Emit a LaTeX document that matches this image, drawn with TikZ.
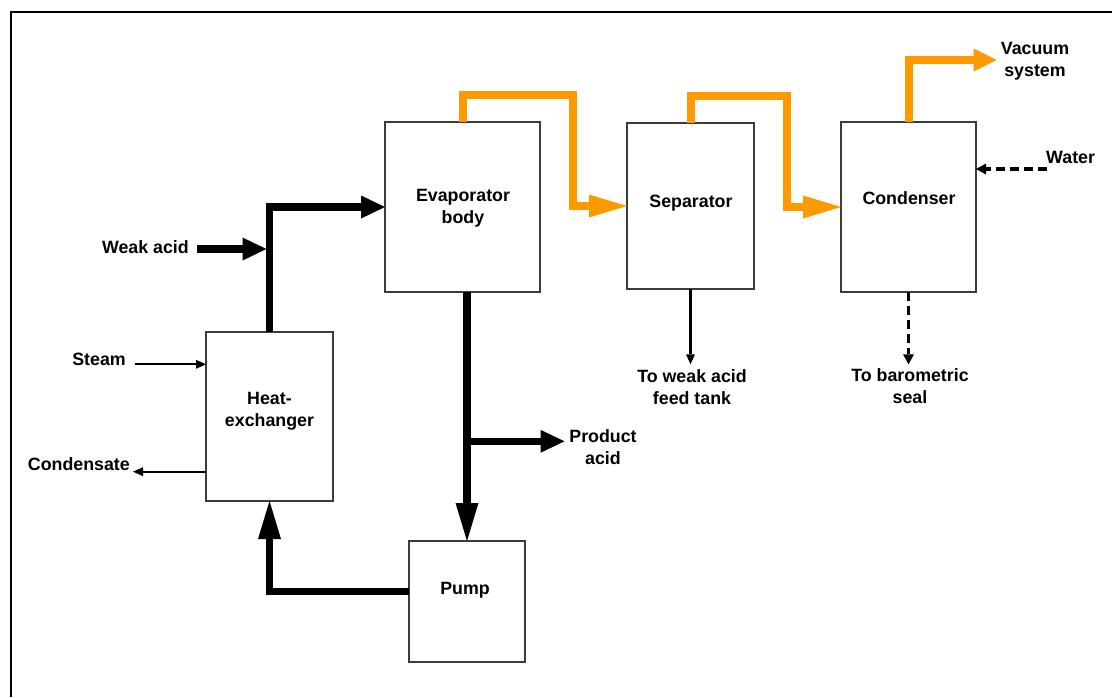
\documentclass[tikz,border=0pt]{standalone}
\usepackage{fontspec}
\setmainfont{Liberation Sans}
\usetikzlibrary{arrows.meta}
\definecolor{vapour}{RGB}{255,153,0}
\definecolor{boxline}{RGB}{60,60,60}
\begin{document}
\begin{tikzpicture}[x=1pt,y=-1pt,
  unit/.style={draw=boxline,line width=1.3pt,fill=white,inner sep=0pt,outer sep=0pt},
  lbl/.style={font=\bfseries\fontsize{17.8}{22}\selectfont,inner sep=0pt,align=center},
  liquid/.style={line width=7.5pt,-{Triangle[length=24pt,width=23pt,line width=0pt]}},
  liquidlong/.style={line width=7.5pt,-{Triangle[length=38pt,width=23pt,line width=0pt]}},
  vapourlong/.style={draw=vapour,line width=8pt,-{Triangle[length=38pt,width=23pt,line width=0pt]}},
  vapourshort/.style={draw=vapour,line width=8pt,-{Triangle[length=23pt,width=23pt,line width=0pt]}},
  utility/.style={line width=2.3pt,-{Triangle[length=10pt,width=9pt,line width=0pt]}},
  cooling/.style={line width=3.3pt,dash pattern=on 9pt off 5pt,-{Triangle[length=10pt,width=11pt,line width=0pt]}}
]
\useasboundingbox (0,0) rectangle (1112,697);
\fill[white] (0,0) rectangle (1112,697);
% frame
\draw[line width=2pt] (11,697) -- (11,12) -- (1112,12);

% process units
\node[unit,minimum width=155pt,minimum height=170pt] (evap) at (462.5,207) {};
\node[unit,minimum width=127pt,minimum height=166pt] (sep)  at (690.5,206) {};
\node[unit,minimum width=135pt,minimum height=170pt] (cond) at (908.5,207) {};
\node[unit,minimum width=127pt,minimum height=169pt] (hx)   at (269.5,416.5) {};
\node[unit,minimum width=116pt,minimum height=121pt] (pump) at (467,601.5) {};

% unit names
\node[lbl] (evap-t) at (463,208) {Evaporator\\body};
\node[lbl] (sep-t)  at (691,203) {Separator};
\node[lbl] (cond-t) at (909,198) {Condenser};
\node[lbl] (hx-t)   at (269.5,411.5) {Heat-\\exchanger};
\node[lbl] (pump-t) at (465,590) {Pump};

% stream labels
\node[lbl,anchor=east] (weak-t)  at (189,247) {Weak acid};
\node[lbl,anchor=east] (steam-t) at (126,359) {Steam};
\node[lbl,anchor=east] (cnd-t)   at (130,464) {Condensate};
\node[lbl] (prod-t) at (603,447) {Product\\acid};
\node[lbl] (feed-t) at (692,387) {To weak acid\\feed tank};
\node[lbl] (baro-t) at (910,386) {To barometric\\seal};
\node[lbl] (vac-t)  at (1035,61) {Vacuum\\system};
\node[lbl,anchor=west] (water-t) at (1046,157) {Water};

% free ends of the streams
\coordinate (weak-in)  at (197,249);
\coordinate (weak-jn)  at (266.5,249);
\coordinate (steam-in) at (134.6,364.3);
\coordinate (cnd-out)  at (133,471.7);
\coordinate (prod-out) at (564.5,441.3);
\coordinate (feed-out) at (690.5,364.3);
\coordinate (baro-out) at (908.5,364.3);
\coordinate (water-in) at (1046.7,169);
\coordinate (vac-out)  at (996.7,60);

% liquid circuit
\draw[liquid] (weak-in) -- (weak-jn);
\draw[liquid] (hx.north) |- (evap.west);
\draw[liquidlong] (evap.south -| pump.north) -- (pump.north);
\draw[liquid] (pump.north |- prod-out) -- (prod-out);
\draw[liquidlong] ([yshift=10pt]pump.west) -| (hx.south);

% vapour line
\draw[vapourlong] (evap.north) |- (572.8,95.3) |- (sep.west);
\draw[vapourlong] (sep.north) |- (787.2,96) |- (cond.west);
\draw[vapourshort] (cond.north) |- (vac-out);

% utilities
\draw[utility] (steam-in) -- (hx.west |- steam-in);
\draw[utility] (hx.west |- cnd-out) -- (cnd-out);
\draw[utility] (sep.south) -- (feed-out);
\draw[cooling] (cond.south) -- (baro-out);
\draw[cooling] (water-in) -- (cond.east |- water-in);
\end{tikzpicture}
\end{document}
